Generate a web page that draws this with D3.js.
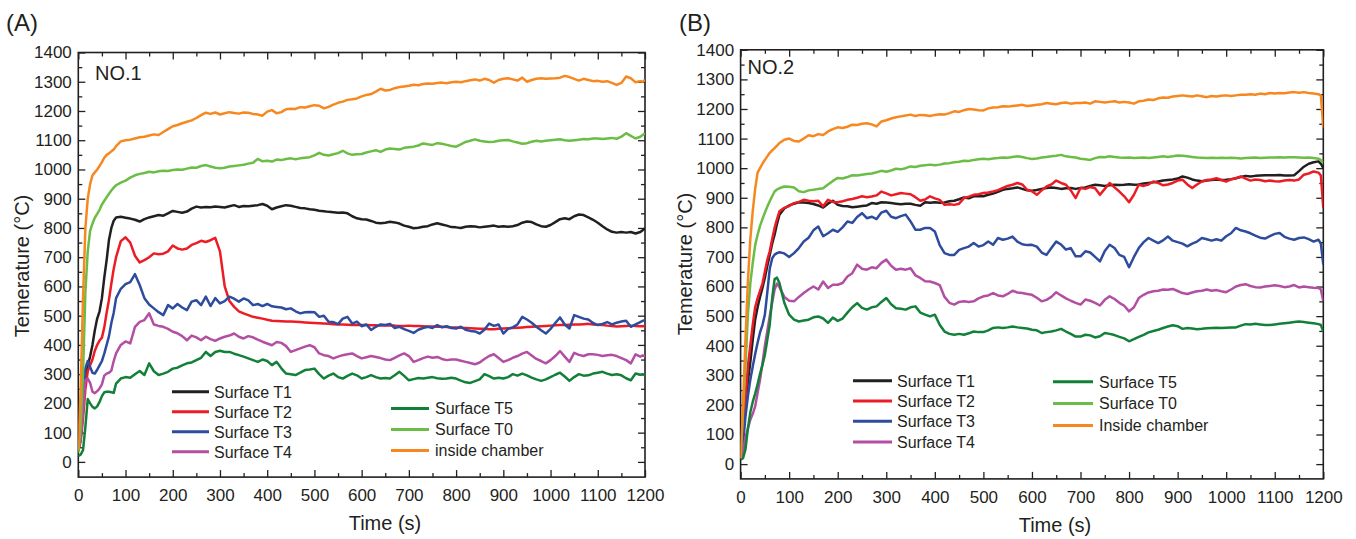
<!DOCTYPE html>
<html>
<head>
<meta charset="utf-8">
<script src="https://cdn.jsdelivr.net/npm/d3@7"></script>
<style>
  body { margin: 0; background: #fff; }
  svg { display: block; font-family: "Liberation Sans", Arial, Helvetica, sans-serif; }
</style>
</head>
<body>
<svg id="chart" width="1356" height="539"></svg>
<script>
// time axis (s), shared by both tests
var timeSec = [0,5,10,15,20,25,30,35,40,45,50,55,60,65,70,75,80,
  90,
  100,110,120,130,140,150,160,170,180,190,
  200,210,220,230,240,250,260,270,280,290,
  300,310,320,330,340,350,360,370,380,390,
  400,410,420,430,440,450,460,470,480,490,
  500,510,520,530,540,550,560,570,580,590,
  600,610,620,630,640,650,660,670,680,690,
  700,710,720,730,740,750,760,770,780,790,
  800,810,820,830,840,850,860,870,880,890,
  900,910,920,930,940,950,960,970,980,990,
  1000,1010,1020,1030,1040,1050,1060,1070,1080,1090,
  1100,1110,1120,1130,1140,1150,1160,1170,1180,1190,
  1195,1200];

// ---- NO.1 ----
var no1T1 = [40,80,180,280,330,360,400,450,490,515,560,630,690,760,800,825,836,
  838,
  835,832,828,822,830,836,840,844,842,850,
  858,855,852,856,866,873,870,872,871,873,
  872,870,874,878,872,875,874,876,878,882,
  876,864,870,874,878,876,872,868,867,864,
  862,859,857,855,854,852,853,850,840,833,
  830,829,824,818,816,818,821,819,815,808,
  804,799,801,804,806,812,816,812,808,803,
  802,800,804,806,805,802,804,806,808,804,
  806,804,806,810,818,822,820,812,806,804,
  810,820,830,833,830,840,846,844,836,828,
  818,806,795,787,784,786,784,786,781,786,
  792,799];
var no1T2 = [40,70,150,250,310,330,350,380,400,415,425,460,510,555,610,660,700,
  755,
  768,750,705,682,690,700,713,710,712,720,
  740,730,726,730,742,748,756,752,758,766,
  720,600,550,530,515,508,502,496,493,490,
  486,483,482,481,480,480,479,478,477,476,
  475,474,473,472,471,470,470,469,468,468,
  468,468,467,467,466,466,466,466,465,465,
  466,465,465,464,463,463,462,462,461,460,
  460,459,458,457,456,455,455,454,454,455,
  456,457,458,459,460,461,462,463,464,465,
  466,467,468,468,469,470,470,471,472,470,
  469,468,466,465,463,464,465,466,465,464,
  464,465];
var no1T3 = [40,90,200,320,345,325,305,302,315,330,345,370,400,430,475,510,560,
  592,
  608,615,642,605,560,538,525,512,502,536,
  525,540,528,519,548,553,536,565,533,560,
  542,550,565,558,548,559,552,536,540,533,
  540,532,530,528,522,525,515,508,512,513,
  512,496,500,479,478,471,490,496,473,480,
  464,470,451,462,470,468,472,458,462,454,
  448,441,452,458,462,458,468,460,464,458,
  456,462,452,448,446,439,452,473,465,470,
  439,455,460,470,496,487,476,462,450,439,
  455,475,494,470,456,502,496,490,487,475,
  468,472,478,470,476,480,483,462,470,478,
  482,485];
var no1T4 = [40,80,170,280,285,270,240,235,242,251,265,295,302,305,312,345,371,
  400,
  412,405,462,479,485,508,470,465,462,455,
  445,440,430,416,432,426,416,428,420,414,
  422,428,432,439,428,422,430,426,418,411,
  405,399,410,407,396,376,382,388,394,399,
  392,371,365,362,354,360,365,368,371,362,
  354,358,362,359,355,350,348,356,364,371,
  362,342,348,355,360,356,359,352,348,350,
  350,346,342,338,334,340,352,362,368,355,
  342,348,356,362,370,376,364,352,345,337,
  348,362,379,360,342,373,366,362,368,368,
  366,362,365,366,362,355,348,337,368,360,
  364,362];
var no1T5 = [20,25,40,120,215,200,188,183,190,205,225,238,240,240,238,236,268,
  285,
  290,288,300,311,297,337,310,297,302,308,
  319,322,330,337,340,348,356,376,362,376,
  380,376,376,370,365,360,354,348,342,350,
  345,331,342,320,302,300,297,305,314,316,
  319,300,285,295,302,290,285,294,302,296,
  285,290,297,290,285,287,285,296,308,294,
  279,283,287,285,288,290,286,284,285,288,
  285,278,272,270,276,282,300,293,285,288,
  285,290,300,295,302,296,288,282,277,282,
  290,298,305,292,277,290,300,295,296,302,
  305,308,302,297,300,296,286,279,302,298,
  300,297];
var no1T0 = [30,120,300,580,720,790,815,835,848,862,880,893,905,917,928,938,946,
  955,
  962,972,980,985,988,992,990,994,996,995,
  998,1000,999,1003,1007,1006,1012,1015,1010,1006,
  1004,1006,1010,1012,1014,1016,1020,1023,1036,1028,
  1030,1027,1034,1032,1036,1038,1035,1038,1040,1042,
  1048,1057,1050,1048,1052,1056,1064,1055,1050,1052,
  1053,1058,1062,1066,1060,1068,1072,1070,1068,1074,
  1076,1078,1082,1089,1086,1084,1090,1088,1084,1080,
  1078,1086,1094,1098,1103,1098,1096,1094,1095,1098,
  1100,1101,1096,1092,1088,1090,1095,1098,1096,1098,
  1100,1102,1103,1100,1098,1100,1102,1104,1103,1106,
  1106,1104,1106,1108,1105,1112,1124,1115,1106,1112,
  1118,1124];
var no1Chamber = [40,250,560,800,900,950,980,990,1000,1012,1025,1040,1050,1055,1062,1068,1080,
  1096,
  1100,1102,1106,1110,1112,1116,1120,1118,1128,1138,
  1148,1152,1158,1163,1168,1176,1186,1194,1190,1195,
  1188,1192,1196,1193,1191,1195,1194,1190,1188,1184,
  1198,1203,1192,1196,1206,1208,1207,1213,1212,1216,
  1220,1218,1209,1214,1222,1228,1232,1238,1240,1243,
  1250,1255,1258,1266,1276,1270,1272,1278,1282,1284,
  1286,1290,1288,1292,1294,1293,1296,1297,1295,1298,
  1300,1298,1302,1305,1308,1304,1310,1306,1297,1306,
  1310,1312,1308,1304,1314,1300,1306,1310,1312,1310,
  1311,1312,1314,1320,1316,1310,1304,1310,1306,1302,
  1303,1300,1302,1296,1289,1296,1318,1312,1298,1302,
  1300,1306];

// ---- NO.2 ----
var no2T1 = [20,90,190,280,345,420,488,530,565,595,630,670,707,745,775,812,843,
  864,
  874,880,885,884,882,879,874,867,880,890,
  876,872,871,868,870,872,874,882,880,885,
  884,882,880,878,880,880,876,873,885,883,
  885,883,884,888,890,895,901,898,905,906,
  905,910,914,920,927,930,932,935,930,925,
  924,926,930,933,935,933,930,932,933,930,
  933,935,940,944,942,940,942,944,943,944,
  946,944,945,948,950,952,955,958,960,962,
  965,972,968,962,958,956,958,960,962,960,
  961,963,966,970,974,972,974,975,976,976,
  976,977,975,975,976,990,1005,1015,1020,1023,
  1015,1000];
var no2T2 = [20,100,220,330,400,470,530,560,585,610,650,690,719,760,798,828,854,
  866,
  872,882,886,893,890,888,890,871,893,886,
  885,888,893,896,900,905,902,904,908,921,
  915,908,912,916,914,912,902,890,894,905,
  898,893,876,878,876,880,899,904,910,912,
  916,918,921,926,933,940,944,950,945,927,
  922,910,925,938,945,958,950,944,925,899,
  933,930,936,932,910,930,950,935,921,905,
  885,910,944,940,945,955,950,942,945,950,
  958,961,945,933,945,955,960,962,966,960,
  955,962,966,972,965,958,962,960,956,958,
  956,955,958,960,958,962,978,982,989,985,
  975,865];
var no2T3 = [20,70,160,230,285,330,372,410,445,470,505,580,660,695,708,713,716,
  712,
  700,713,730,752,765,790,803,770,780,792,
  785,800,820,815,835,848,831,836,828,850,
  856,836,831,838,843,820,792,792,798,798,
  786,740,713,707,707,724,730,735,747,735,
  740,752,741,764,758,762,769,752,743,740,
  741,735,715,707,730,752,742,725,730,702,
  702,719,715,700,685,720,741,730,707,700,
  665,700,730,750,764,755,747,756,769,755,
  750,745,736,745,752,764,760,755,760,755,
  770,780,798,790,786,780,772,765,762,770,
  778,781,768,762,758,764,766,760,752,758,
  745,674];
var no2T4 = [20,40,90,120,150,170,195,240,285,340,400,450,500,545,590,610,598,
  565,
  552,550,565,578,590,600,590,617,595,606,
  606,612,634,645,674,660,657,665,662,680,
  691,670,657,660,657,662,638,629,618,617,
  612,605,565,545,539,548,550,548,550,560,
  567,570,578,570,567,575,586,580,578,575,
  572,562,550,555,565,581,570,560,552,545,
  539,556,552,545,536,555,567,558,545,535,
  516,530,561,572,580,584,586,590,589,592,
  585,578,575,580,584,586,590,586,588,584,
  581,590,600,605,608,602,598,597,600,602,
  604,602,598,600,605,597,600,598,596,595,
  590,550];
var no2T5 = [15,20,50,120,175,210,238,270,305,335,369,420,471,560,625,630,612,
  545,
  505,488,482,485,488,496,499,492,477,495,
  484,492,512,530,544,528,522,530,533,548,
  561,540,527,525,522,530,533,512,505,499,
  505,471,448,440,437,440,437,442,448,446,
  446,452,460,462,460,462,465,462,460,458,
  454,452,443,446,448,452,457,448,440,431,
  431,437,435,428,432,443,440,436,430,425,
  415,422,430,437,445,450,454,460,465,469,
  466,457,460,458,456,457,459,460,461,460,
  461,462,462,468,473,472,474,472,470,470,
  472,474,476,478,480,482,480,478,476,473,
  470,448];
var no2T0 = [20,180,330,505,610,680,740,775,805,828,850,870,888,905,921,928,932,
  938,
  937,935,922,919,925,927,930,932,945,957,
  967,965,970,976,975,978,980,982,986,991,
  988,992,998,996,1000,1006,1004,1008,1010,1012,
  1010,1012,1016,1017,1020,1022,1025,1024,1028,1030,
  1032,1030,1033,1034,1036,1035,1038,1040,1038,1034,
  1031,1033,1036,1038,1040,1042,1045,1040,1038,1036,
  1032,1030,1028,1034,1038,1037,1040,1038,1036,1035,
  1036,1034,1035,1036,1034,1036,1038,1040,1038,1040,
  1043,1042,1040,1038,1036,1035,1034,1035,1034,1035,
  1034,1035,1034,1033,1034,1035,1036,1034,1035,1036,
  1036,1037,1036,1037,1037,1036,1035,1036,1034,1032,
  1028,1017];
var no2Chamber = [20,200,420,617,760,855,930,985,1000,1015,1028,1040,1052,1060,1068,1076,1085,
  1096,
  1100,1092,1090,1100,1111,1108,1115,1112,1124,1132,
  1138,1136,1140,1147,1146,1150,1152,1148,1141,1158,
  1162,1168,1172,1175,1178,1181,1176,1180,1179,1176,
  1180,1182,1181,1186,1192,1190,1196,1200,1198,1196,
  1195,1202,1205,1206,1209,1208,1210,1212,1214,1210,
  1212,1214,1216,1220,1218,1216,1220,1222,1218,1220,
  1220,1222,1218,1226,1224,1222,1224,1226,1222,1224,
  1222,1218,1226,1228,1232,1230,1236,1239,1238,1242,
  1244,1246,1244,1242,1246,1243,1240,1244,1242,1245,
  1246,1244,1246,1248,1248,1250,1248,1252,1250,1254,
  1252,1254,1253,1256,1257,1255,1257,1254,1252,1250,
  1245,1136];

var seriesNames1 = ["Surface T1","Surface T2","Surface T3","Surface T4","Surface T5","Surface T0","inside chamber"];
var seriesNames2 = ["Surface T1","Surface T2","Surface T3","Surface T4","Surface T5","Surface T0","Inside chamber"];
var seriesColors = ["#231f20","#ec1c24","#2e4c9e","#b24fa3","#138039","#6bbd45","#f7881f"];
var xTickValues = [0,100,200,300,400,500,600,700,800,900,1000,1100,1200];
var yTickValues = [0,100,200,300,400,500,600,700,800,900,1000,1100,1200,1300,1400];

var svg = d3.select("#chart");
var ink = "#231f20";
var plain = d3.format("d");

function drawPanel(p){
	var x = d3.scaleLinear().domain([0,1200]).range([p.left,p.right]);
	var y = d3.scaleLinear().domain([p.ymin,1400]).range([p.bottom,p.top]);
	var g = svg.append("g");

	var clipId = "clip" + p.id;
	svg.append("clipPath").attr("id",clipId).append("rect")
		.attr("x",p.left).attr("y",p.top)
		.attr("width",p.right-p.left).attr("height",p.bottom-p.top);

	var minorX = d3.range(50,1200,100), minorY = d3.range(50,1400,100);

	// bottom + top axes
	g.append("g").attr("transform","translate(0,"+p.bottom+")")
		.call(d3.axisBottom(x).tickValues(xTickValues).tickFormat(plain).tickSize(-7).tickSizeOuter(0).tickPadding(12));
	g.append("g").attr("transform","translate(0,"+p.bottom+")")
		.call(d3.axisBottom(x).tickValues(minorX).tickSize(-4).tickFormat(""));
	g.append("g").attr("transform","translate(0,"+p.top+")")
		.call(d3.axisTop(x).tickValues(xTickValues).tickSize(-7).tickFormat(""));
	g.append("g").attr("transform","translate(0,"+p.top+")")
		.call(d3.axisTop(x).tickValues(minorX).tickSize(-4).tickFormat(""));
	// left + right axes
	g.append("g").attr("transform","translate("+p.left+",0)")
		.call(d3.axisLeft(y).tickValues(yTickValues).tickFormat(plain).tickSize(-7).tickSizeOuter(0).tickPadding(6.5));
	g.append("g").attr("transform","translate("+p.left+",0)")
		.call(d3.axisLeft(y).tickValues(minorY).tickSize(-4).tickFormat(""));
	g.append("g").attr("transform","translate("+p.right+",0)")
		.call(d3.axisRight(y).tickValues(yTickValues).tickSize(-7).tickFormat(""));
	g.append("g").attr("transform","translate("+p.right+",0)")
		.call(d3.axisRight(y).tickValues(minorY).tickSize(-4).tickFormat(""));

	g.selectAll(".domain").remove();
	g.selectAll(".tick line").attr("stroke",ink).attr("stroke-width",1.3);
	g.selectAll(".tick text").attr("fill",ink).style("font-size","17px")
		.style("font-family","'Liberation Sans', Arial, sans-serif");

	g.append("rect").attr("x",p.left).attr("y",p.top)
		.attr("width",p.right-p.left).attr("height",p.bottom-p.top)
		.attr("fill","none").attr("stroke",ink).attr("stroke-width",1.6);

	var line = d3.line().x(function(d,i){return x(timeSec[i]);}).y(function(d){return y(d);});
	var lines = g.append("g").attr("clip-path","url(#"+clipId+")");
	p.series.forEach(function(s,i){
		lines.append("path").datum(s)
			.attr("d",line).attr("fill","none")
			.attr("stroke",seriesColors[i]).attr("stroke-width",2.5)
			.attr("stroke-linejoin","round");
	});

	// legend
	p.legend.forEach(function(L){
		var lg = g.append("g");
		lg.append("line").attr("x1",L.x1).attr("x2",L.x2).attr("y1",L.y).attr("y2",L.y)
			.attr("stroke",seriesColors[L.i]).attr("stroke-width",3);
		lg.append("text").attr("x",L.tx).attr("y",L.y+5.8)
			.attr("fill",ink).style("font-size","16px").text(p.names[L.i]);
	});

	g.append("text").attr("x",p.tagX).attr("y",p.tagY).attr("fill",ink)
		.style("font-size","20px").text(p.tag);
	g.append("text").attr("x",p.panelX).attr("y",31).attr("fill",ink)
		.style("font-size","24px").text(p.panel);
	g.append("text").attr("x",p.xTitleX).attr("y",p.xTitleY).attr("text-anchor","middle")
		.attr("fill",ink).style("font-size","20px").text("Time (s)");
	g.append("text").attr("transform","translate("+p.yTitleX+","+p.yTitleY+") rotate(-90)")
		.attr("text-anchor","middle").attr("fill",ink).style("font-size","20px")
		.text("Temerature (°C)");
}

function legendRows(c1, c2){
	var rows = [];
	c1.ys.forEach(function(yy,k){ rows.push({i:k, x1:c1.x1, x2:c1.x2, tx:c1.tx, y:yy}); });
	c2.ys.forEach(function(yy,k){ rows.push({i:4+k, x1:c2.x1, x2:c2.x2, tx:c2.tx, y:yy}); });
	return rows;
}

drawPanel({
	id:"A", left:78.3, right:645, top:52.5, bottom:477.1, ymin:-52,
	series:[no1T1,no1T2,no1T3,no1T4,no1T5,no1T0,no1Chamber], names:seriesNames1,
	legend: legendRows({x1:172,x2:209,tx:214,ys:[391.7,411.7,431.7,451.7]},
		{x1:391,x2:429,tx:435,ys:[408.5,429.5,450.5]}),
	tag:"NO.1", tagX:95, tagY:80, panel:"(A)", panelX:6,
	xTitleX:385, xTitleY:530, yTitleX:29, yTitleY:266
});
drawPanel({
	id:"B", left:740.6, right:1323.3, top:49.8, bottom:478.9, ymin:-50,
	series:[no2T1,no2T2,no2T3,no2T4,no2T5,no2T0,no2Chamber], names:seriesNames2,
	legend: legendRows({x1:853,x2:892,tx:897,ys:[380.7,401,421.3,442]},
		{x1:1053,x2:1093,tx:1099,ys:[381.7,403.5,425.5]}),
	tag:"NO.2", tagX:747.5, tagY:74, panel:"(B)", panelX:679,
	xTitleX:1055, xTitleY:532, yTitleX:692, yTitleY:264
});
</script>
</body>
</html>
